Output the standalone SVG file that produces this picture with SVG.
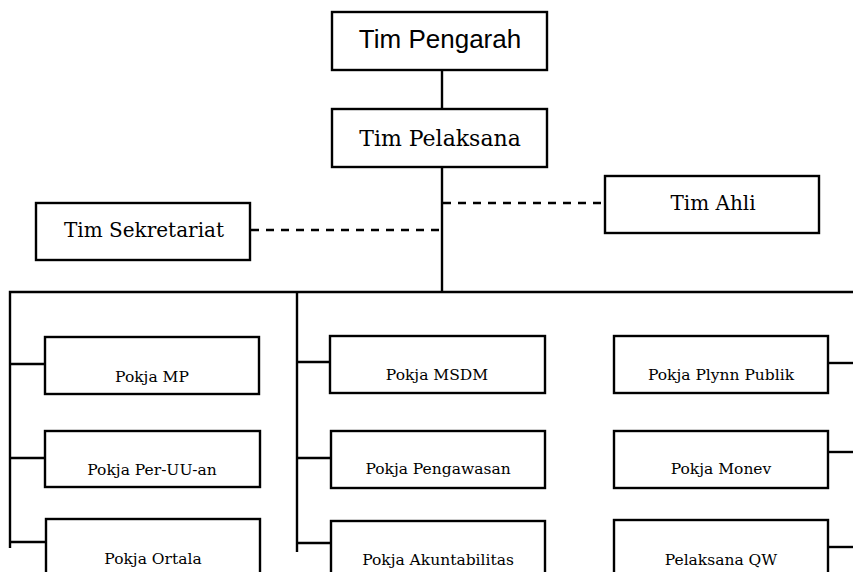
<svg xmlns="http://www.w3.org/2000/svg" width="853" height="572" viewBox="0 0 853 572">
<style>
.box{fill:#fff;stroke:#000;stroke-width:2.4}
.ln{fill:none;stroke:#000;stroke-width:2.4}
.dash{fill:none;stroke:#000;stroke-width:2.6;stroke-dasharray:8 7}
.s{font-family:"Liberation Sans",Arial,sans-serif;font-size:26px;text-anchor:middle;fill:#000}
.t{font-family:"DejaVu Serif",serif;font-size:22px;text-anchor:middle;fill:#000}
.t2{font-family:"DejaVu Serif",serif;font-size:20px;text-anchor:middle;fill:#000}
.p{font-family:"DejaVu Serif",serif;font-size:15.5px;text-anchor:middle;fill:#000}
</style>
<rect width="853" height="572" fill="#fff"/>
<g id="connectors">
<line class="ln" x1="442" y1="70" x2="442" y2="109"/>
<line class="ln" x1="442" y1="167" x2="442" y2="293"/>
<line class="dash" x1="443" y1="203" x2="605" y2="203"/>
<line class="dash" x1="251" y1="230" x2="442" y2="230"/>
<polyline class="ln" points="10,548 10,292 853,292"/>
<line class="ln" x1="297" y1="292" x2="297" y2="552"/>
<line class="ln" x1="10" y1="364" x2="45" y2="364"/>
<line class="ln" x1="10" y1="458" x2="45" y2="458"/>
<line class="ln" x1="10" y1="542" x2="46" y2="542"/>
<line class="ln" x1="297" y1="362" x2="330" y2="362"/>
<line class="ln" x1="297" y1="458" x2="330" y2="458"/>
<line class="ln" x1="297" y1="543" x2="330" y2="543"/>
<line class="ln" x1="828" y1="363" x2="853" y2="363"/>
<line class="ln" x1="828" y1="452" x2="853" y2="452"/>
<line class="ln" x1="828" y1="547" x2="853" y2="547"/>
</g>
<g id="tim-pengarah"><rect class="box" x="332" y="12" width="215" height="58"/><text class="s" x="440" y="48">Tim Pengarah</text></g>
<g id="tim-pelaksana"><rect class="box" x="332" y="109" width="215" height="58"/><text class="t" x="440" y="146">Tim Pelaksana</text></g>
<g id="tim-sekretariat"><rect class="box" x="36" y="203" width="214" height="57"/><text class="t2" x="144" y="237">Tim Sekretariat</text></g>
<g id="tim-ahli"><rect class="box" x="605" y="176" width="214" height="57"/><text class="t2" x="713" y="210">Tim Ahli</text></g>
<g id="pokja-mp"><rect class="box" x="45" y="337" width="214" height="57"/><text class="p" x="152" y="382">Pokja MP</text></g>
<g id="pokja-peruuan"><rect class="box" x="45" y="431" width="215" height="56"/><text class="p" x="152" y="475">Pokja Per-UU-an</text></g>
<g id="pokja-ortala"><rect class="box" x="46" y="519" width="214" height="60"/><text class="p" x="153" y="564">Pokja Ortala</text></g>
<g id="pokja-msdm"><rect class="box" x="330" y="336" width="215" height="57"/><text class="p" x="437" y="380">Pokja MSDM</text></g>
<g id="pokja-pengawasan"><rect class="box" x="331" y="431" width="214" height="57"/><text class="p" x="438" y="474">Pokja Pengawasan</text></g>
<g id="pokja-akuntabilitas"><rect class="box" x="331" y="521" width="214" height="60"/><text class="p" x="438" y="565">Pokja Akuntabilitas</text></g>
<g id="pokja-plynn-publik"><rect class="box" x="614" y="336" width="214" height="57"/><text class="p" x="721" y="380">Pokja Plynn Publik</text></g>
<g id="pokja-monev"><rect class="box" x="614" y="431" width="214" height="57"/><text class="p" x="721" y="474">Pokja Monev</text></g>
<g id="pelaksana-qw"><rect class="box" x="614" y="520" width="214" height="60"/><text class="p" x="721" y="565">Pelaksana QW</text></g>
</svg>
